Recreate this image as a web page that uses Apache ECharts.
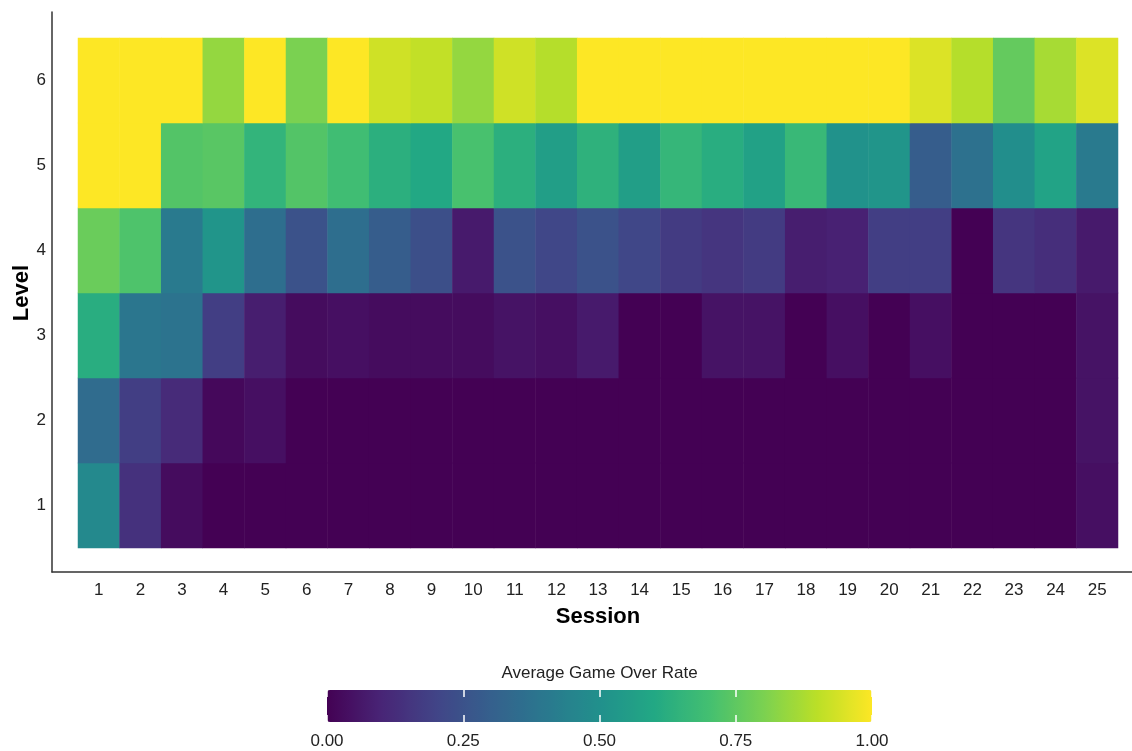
<!DOCTYPE html>
<html>
<head>
<meta charset="utf-8">
<title>Average Game Over Rate</title>
<script src="https://cdn.jsdelivr.net/npm/echarts@6/dist/echarts.min.js"></script>
<style>
  html, body { margin: 0; padding: 0; background: #fff; }
  #chart { width: 1132px; height: 751px; }
</style>
</head>
<body>
<div id="chart"></div>
<script>
// sessions on x, levels on y (level 1 at the bottom)
var sessions = ["1","2","3","4","5","6","7","8","9","10","11","12","13","14","15","16","17","18","19","20","21","22","23","24","25"];
var levels = ["1","2","3","4","5","6"];

// average game over rate per session, one array per level
var level1 = [0.47,0.14,0.03,0,0,0,0,0,0,0,0,0,0,0,0,0,0,0,0,0,0,0,0,0,0.04];
var level2 = [0.35,0.18,0.12,0.02,0.04,0,0,0,0,0,0,0,0,0,0,0,0,0,0,0,0,0,0,0,0.05];
var level3 = [0.62,0.39,0.38,0.18,0.08,0.03,0.04,0.03,0.03,0.03,0.05,0.04,0.07,0,0,0.05,0.05,0,0.04,0,0.04,0,0,0,0.05];
var level4 = [0.77,0.72,0.41,0.52,0.36,0.25,0.36,0.29,0.24,0.07,0.25,0.21,0.25,0.21,0.17,0.15,0.17,0.08,0.09,0.18,0.18,0,0.15,0.13,0.07];
var level5 = [1,1,0.73,0.74,0.65,0.73,0.69,0.63,0.6,0.71,0.63,0.56,0.64,0.56,0.66,0.62,0.57,0.67,0.51,0.52,0.29,0.37,0.49,0.58,0.41];
var level6 = [1,1,1,0.84,1,0.8,1,0.93,0.91,0.84,0.93,0.89,1,1,1,1,1,1,1,1,0.95,0.89,0.76,0.87,0.95];

// colour bar ticks
var legendTicks = [0, 0.25, 0.5, 0.75, 1];

var viridis = ["#440154","#482576","#414487","#35608D","#2A788E","#21908C","#22A884","#43BF71","#7AD151","#BBDF27","#FDE725"];

var rows = [level1, level2, level3, level4, level5, level6];
var data = [];
rows.forEach(function (row, y) {
  row.forEach(function (v, x) {
    data.push([x, y, v]);
  });
});

var font = "'Liberation Sans', Arial, sans-serif";

var myChart = echarts.init(document.getElementById("chart"));
var option = {
  animation: false,
  grid: [
    // heatmap cells
    { left: 78, right: 14, top: 38, bottom: 203, outerBoundsMode: "none" },
    // axis lines (panel is a bit larger than the cells)
    { left: 52, right: 0, top: 12, bottom: 179, outerBoundsMode: "none" },
    // colour bar scale
    { left: 327, width: 545, top: 690, height: 32, outerBoundsMode: "none" }
  ],
  xAxis: [
    {
      type: "category",
      gridIndex: 0,
      data: sessions,
      name: "Session",
      nameLocation: "middle",
      nameGap: 58,
      nameMoveOverlap: false,
      nameTextStyle: { fontFamily: font, fontSize: 22, fontWeight: "bold", color: "#000" },
      axisLine: { show: false },
      axisTick: { show: false },
      axisLabel: { margin: 34, fontFamily: font, fontSize: 17, color: "#222" },
      splitLine: { show: false }
    },
    {
      type: "value",
      gridIndex: 1,
      min: 0,
      max: 1,
      axisLine: { show: true, lineStyle: { color: "#333", width: 1.5 } },
      axisTick: { show: false },
      axisLabel: { show: false },
      splitLine: { show: false }
    },
    {
      type: "value",
      gridIndex: 2,
      min: 0,
      max: 1,
      interval: 0.25,
      position: "bottom",
      axisLine: { show: false },
      axisTick: { show: true, inside: true, length: 7, lineStyle: { color: "#fff", width: 1.5 } },
      axisLabel: {
        margin: 11, fontFamily: font, fontSize: 17, color: "#222",
        formatter: function (v) { return legendTicks.indexOf(v) >= 0 ? v.toFixed(2) : ""; }
      },
      splitLine: { show: false },
      z: 10
    },
    {
      type: "value",
      gridIndex: 2,
      min: 0,
      max: 1,
      interval: 0.25,
      position: "top",
      name: "Average Game Over Rate",
      nameLocation: "middle",
      nameGap: 8,
      nameMoveOverlap: false,
      nameTextStyle: { fontFamily: font, fontSize: 17, color: "#222" },
      axisLine: { show: false },
      axisTick: { show: true, inside: true, length: 7, lineStyle: { color: "#fff", width: 1.5 } },
      axisLabel: { show: false },
      splitLine: { show: false },
      z: 10
    }
  ],
  yAxis: [
    {
      type: "category",
      gridIndex: 0,
      data: levels,
      name: "Level",
      nameLocation: "middle",
      nameGap: 45,
      nameRotate: 90,
      nameMoveOverlap: false,
      nameTextStyle: { fontFamily: font, fontSize: 22, fontWeight: "bold", color: "#000" },
      axisLine: { show: false },
      axisTick: { show: false },
      axisLabel: { margin: 32, fontFamily: font, fontSize: 17, color: "#222" },
      splitLine: { show: false }
    },
    {
      type: "value",
      gridIndex: 1,
      min: 0,
      max: 1,
      axisLine: { show: true, lineStyle: { color: "#333", width: 1.5 } },
      axisTick: { show: false },
      axisLabel: { show: false },
      splitLine: { show: false }
    },
    {
      type: "value",
      gridIndex: 2,
      min: 0,
      max: 1,
      show: false
    }
  ],
  visualMap: {
    type: "continuous",
    min: 0,
    max: 1,
    seriesIndex: 0,
    orient: "horizontal",
    left: 327,
    top: 690,
    itemWidth: 32,
    itemHeight: 545,
    padding: 0,
    calculable: false,
    hoverLink: false,
    inRange: { color: viridis }
  },
  series: [
    {
      type: "heatmap",
      xAxisIndex: 0,
      yAxisIndex: 0,
      data: data,
      itemStyle: { borderWidth: 0 },
      emphasis: { disabled: true }
    }
  ]
};
myChart.setOption(option);
</script>
</body>
</html>
